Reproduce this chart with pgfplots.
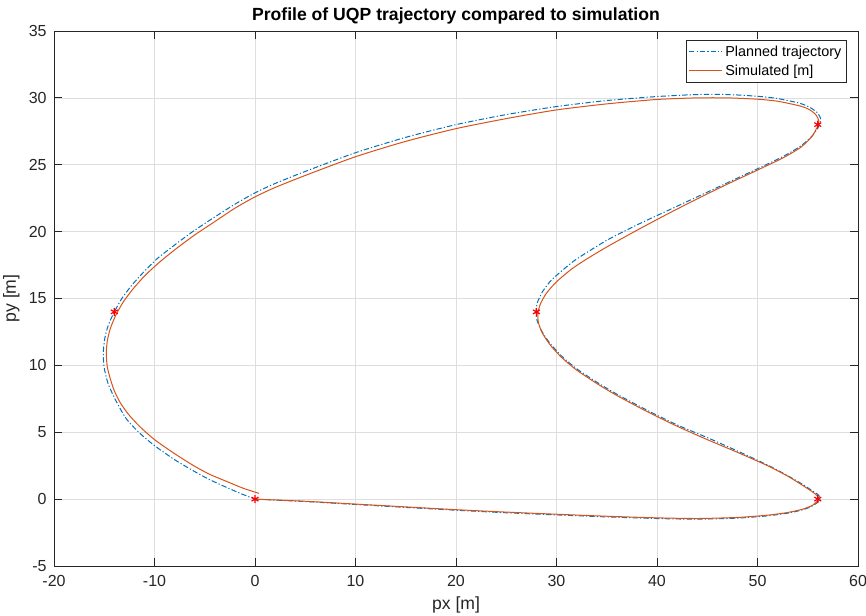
\documentclass[border=0pt]{standalone}
\usepackage{pgfplots}
\pgfplotsset{compat=1.18}
\usepackage{fontspec}
\setmainfont{Liberation Sans}

\definecolor{mblue}{rgb}{0,0.447,0.741}
\definecolor{morange}{rgb}{0.85,0.325,0.098}
\definecolor{mgrid}{rgb}{0.87,0.87,0.87}
\definecolor{maxis}{rgb}{0.15,0.15,0.15}

\begin{document}
\begin{tikzpicture}
\useasboundingbox (-40.5pt,-37.5pt) rectangle (609pt,424.5pt);
\begin{axis}[
  at={(0,0)}, anchor=south west,
  scale only axis,
  width=603pt, height=401.25pt,
  xmin=-20, xmax=60, ymin=-5, ymax=35,
  xtick={-20,-10,...,60}, ytick={-5,0,...,35},
  grid=major,
  major grid style={mgrid, line width=0.5pt},
  axis line style={maxis, line width=0.6pt},
  tick style={maxis, line width=0.6pt},
  major tick length=6pt,
  tick align=inside,
  every tick label/.append style={font=\fontsize{12}{14}\selectfont, text=maxis},
  /pgf/number format/assume math mode=true,
  xticklabel style={anchor=base, yshift=-15.75pt},
  yticklabel style={anchor=east, xshift=-2pt},
  title={Profile of UQP trajectory compared to simulation},
  title style={at={(axis description cs:0.5,1.0187)}, anchor=base, yshift=-6pt, font=\bfseries\fontsize{13.2}{15}\selectfont, text=black},
  xlabel={px [m]},
  ylabel={py [m]},
  xlabel style={at={(axis description cs:0.5,-0.0804)}, anchor=base, font=\fontsize{13.2}{15}\selectfont, text=maxis},
  ylabel style={at={(axis description cs:-0.0473,0.5)}, anchor=base, font=\fontsize{13.2}{15}\selectfont, text=maxis},
  legend style={at={(0.9863,0.9832)}, anchor=north east, draw=maxis, line width=0.5pt,
    font=\fontsize{10.8}{12}\selectfont, inner sep=2pt, row sep=1pt, cells={anchor=west}},
  legend image code/.code={\draw[#1] (0cm,0cm) -- (0.87cm,0cm);},
]
\addplot[mblue, line width=0.75pt, dash pattern=on 4pt off 1.6pt on 0.9pt off 1.6pt, smooth, tension=0.4] coordinates {
(0,0) (5,-0.18) (10,-0.4) (15,-0.62) (20,-0.83) (25,-1.02) (30,-1.18) (35,-1.33)
(40,-1.45) (44,-1.5) (48,-1.42) (51,-1.25) (53,-1.05) (54.5,-0.8) (55.5,-0.5)
(56.1,-0.15) (56.25,0.1) (56.0,0.35) (55.4,0.65) (54.5,1.1) (53,1.75) (51,2.55)
(48,3.6) (45,4.6) (42,5.55) (39,6.65) (36,7.85) (34,8.75) (32,9.75) (30.5,10.7)
(29.3,11.7) (28.5,12.6) (28.05,13.4) (27.95,14.0) (28.1,14.7) (28.6,15.5)
(29.4,16.3) (30.5,17.05) (32,17.95) (35,19.35) (38,20.5) (41,21.55) (44,22.6)
(47,23.65) (50,24.7) (52.5,25.6) (54.3,26.4) (55.5,27.2) (56.1,27.9) (56.3,28.4)
(56.0,28.85) (55.3,29.25) (54.2,29.6) (52,29.95) (50,30.12) (47,30.25) (44,30.25)
(40,30.1) (35,29.8) (30,29.35) (25,28.75) (20,28.0) (15,27.05) (10,25.9) (5,24.5)
(2,23.6) (0,22.9) (-2,22.05) (-4.2,21) (-6.2,20) (-8.0,19) (-9.7,18) (-11.05,17)
(-12.25,16) (-13.25,15) (-14.0,14) (-14.6,13) (-14.95,12) (-15.1,10.9) (-15.0,9.8)
(-14.6,8.6) (-13.8,7.3) (-12.8,6.0) (-11.5,4.95) (-10,4.0) (-8,2.95) (-6.1,2.1)
(-4.5,1.45) (-2.75,0.85) (-1.3,0.38) (0,0)
};
\addlegendentry{Planned trajectory}
\addplot[morange, line width=0.75pt, smooth, tension=0.4] coordinates {
(0,0) (5,-0.16) (10,-0.37) (15,-0.58) (20,-0.79) (25,-0.97) (30,-1.13) (35,-1.28)
(40,-1.4) (44,-1.45) (48,-1.37) (51,-1.2) (53,-1.0) (54.5,-0.75) (55.5,-0.45)
(56.0,-0.1) (56.1,0.1) (55.8,0.35) (55.2,0.68) (54.3,1.12) (53,1.72) (51,2.5)
(48,3.5) (45,4.45) (42,5.45) (39,6.55) (36,7.75) (34,8.65) (32,9.65) (30.5,10.6)
(29.4,11.5) (28.6,12.4) (28.2,13.2) (28.15,13.9) (28.4,14.6) (29.0,15.4)
(30,16.25) (31.5,17.2) (33,17.95) (35,18.85) (38,20.1) (41,21.3) (44,22.45)
(47,23.55) (50,24.6) (52.5,25.5) (54.3,26.3) (55.4,27.1) (56.0,27.9) (56.1,28.3)
(55.8,28.75) (55.1,29.15) (54.2,29.4) (52,29.75) (50,29.9) (47,30.0) (44,30.0)
(40,29.88) (35,29.55) (30,29.1) (25,28.45) (20,27.7) (15,26.75) (10,25.6) (5,24.2)
(2,23.3) (0,22.6) (-2,21.75) (-4.0,20.75) (-6.0,19.75) (-7.8,18.75) (-9.45,17.75)
(-10.9,16.75) (-12.1,15.75) (-13.1,14.75) (-13.85,13.75) (-14.4,12.75) (-14.7,11.8)
(-14.8,10.9) (-14.7,9.9) (-14.4,9.0) (-14.0,8.1) (-13.4,7.2) (-12.6,6.35)
(-11.5,5.45) (-10,4.45) (-8,3.4) (-6.1,2.5) (-4.5,1.85) (-2.75,1.3) (-1.2,0.82)
(0.4,0.43)
};
\addlegendentry{Simulated [m]}
\addplot[only marks, mark=asterisk, mark size=3pt, red, line width=0.9pt, forget plot] coordinates {
(0,0) (-14,14) (28,14) (56,28) (56,0)
};
\end{axis}
\end{tikzpicture}
\end{document}
